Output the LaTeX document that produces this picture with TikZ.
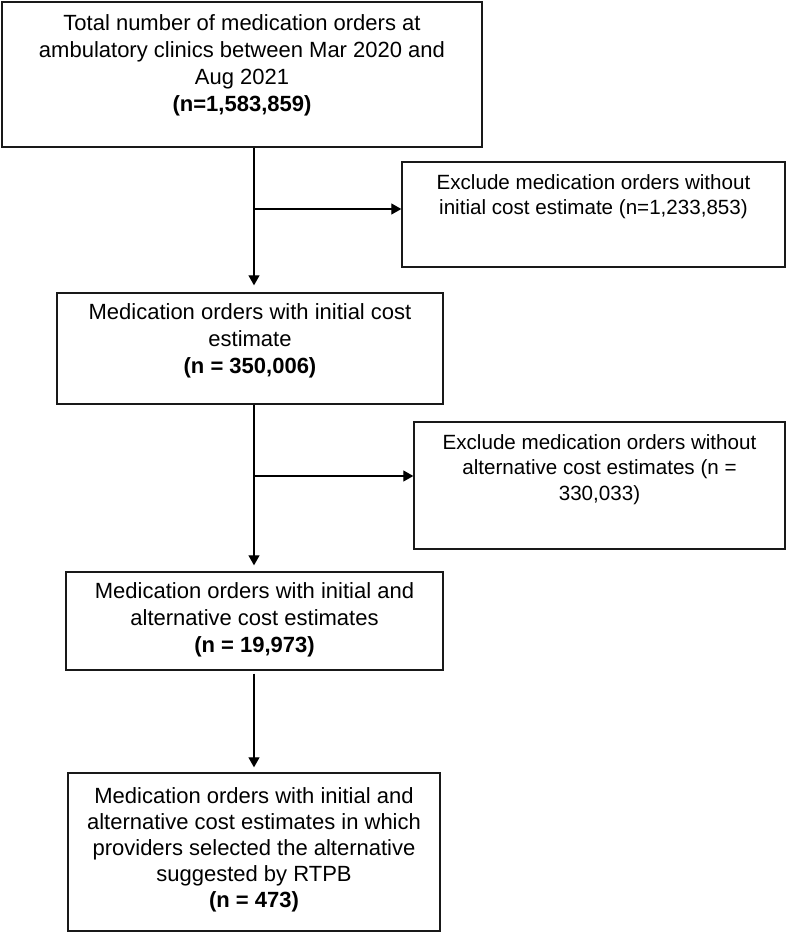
\documentclass[tikz,border=0pt]{standalone}
\usepackage{fontspec}
\setmainfont{Liberation Sans}
\usetikzlibrary{arrows.meta}

\tikzset{
  flowbox/.style={draw=black!90, line width=1.4pt, inner sep=0pt},
  maintext/.style={inner sep=0pt, align=center, font=\fontsize{22pt}{27pt}\selectfont},
  sidetext/.style={inner sep=0pt, align=center, font=\fontsize{20.6pt}{25.5pt}\selectfont},
  flowarrow/.style={line width=1.2pt, -{Triangle[length=10pt,width=11pt]}}
}

\begin{document}
\begin{tikzpicture}[x=1pt, y=-1pt]
    \useasboundingbox (0,0) rectangle (789,932);

    % main column
    \node[flowbox, minimum width=480pt, minimum height=145pt] (total) at (242,74.5) {};
    \node[maintext, below=13pt] (totaltext) at (total.north)
      {Total number of medication orders at\\ambulatory clinics between Mar 2020 and\\Aug 2021\\\textbf{(n=1,583,859)}};

    \node[flowbox, minimum width=386pt, minimum height=111pt] (initial) at (250,348.5) {};
    \node[maintext, below=11pt] (initialtext) at (initial.north)
      {Medication orders with initial cost\\estimate\\\textbf{(n = 350,006)}};

    \node[flowbox, minimum width=377pt, minimum height=98pt] (both) at (254.5,621) {};
    \node[maintext, below=11pt] (bothtext) at (both.north)
      {Medication orders with initial and\\alternative cost estimates\\\textbf{(n = 19,973)}};

    \node[flowbox, minimum width=372pt, minimum height=158pt] (chosen) at (254,852) {};
    \node[maintext, below=15pt, font=\fontsize{22pt}{26pt}\selectfont] (chosentext) at (chosen.north)
      {Medication orders with initial and\\alternative cost estimates in which\\providers selected the alternative\\suggested by RTPB\\\textbf{(n = 473)}};

    % exclusions
    \node[flowbox, minimum width=383pt, minimum height=105pt] (noinit) at (593.5,214.5) {};
    \node[sidetext, below=13pt] (noinittext) at (noinit.north)
      {Exclude medication orders without\\initial cost estimate (n=1,233,853)};

    \node[flowbox, minimum width=371pt, minimum height=127pt] (noalt) at (599.5,485.5) {};
    \node[sidetext, below=13pt] (noalttext) at (noalt.north)
      {Exclude medication orders without\\alternative cost estimates (n =\\330,033)};

    % arrows
    \coordinate (trunk) at (254,0);
    \coordinate (split1) at (254,209);
    \coordinate (split2) at (254,476);
    \draw[flowarrow, shorten >=7pt] (total.south -| trunk) -- (initial.north -| trunk);
    \draw[flowarrow] (split1) -- (split1 -| noinit.west);
    \draw[flowarrow, shorten >=6pt] (initial.south -| trunk) -- (both.north -| trunk);
    \draw[flowarrow] (split2) -- (split2 -| noalt.west);
    \draw[flowarrow, shorten >=5pt, shorten <=3pt] (both.south -| trunk) -- (chosen.north -| trunk);
\end{tikzpicture}
\end{document}
